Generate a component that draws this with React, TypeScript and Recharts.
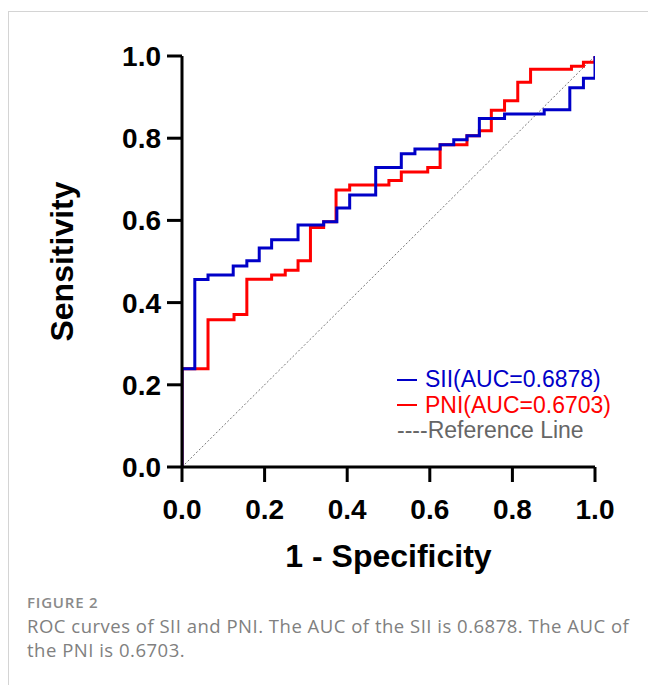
import { LineChart, Line, XAxis, YAxis, ReferenceLine, Legend } from "recharts";

// ROC step corners: x = 1 - specificity where the step happens, y = sensitivity after it
const siiFpr = [0, 0, 0.031, 0.063, 0.124, 0.157, 0.187, 0.217, 0.281, 0.343, 0.375, 0.406, 0.469, 0.531, 0.564, 0.625, 0.658, 0.69, 0.72, 0.781, 0.877, 0.939, 0.972, 1.0];
const siiTpr = [0, 0.239, 0.456, 0.467, 0.489, 0.502, 0.533, 0.553, 0.589, 0.597, 0.63, 0.662, 0.729, 0.762, 0.774, 0.784, 0.796, 0.806, 0.848, 0.859, 0.869, 0.923, 0.946, 1.0];

const pniFpr = [0, 0, 0.063, 0.126, 0.157, 0.217, 0.25, 0.281, 0.311, 0.343, 0.373, 0.406, 0.501, 0.531, 0.595, 0.625, 0.69, 0.72, 0.749, 0.781, 0.813, 0.844, 0.943, 0.972, 1.0];
const pniTpr = [0, 0.239, 0.358, 0.371, 0.457, 0.467, 0.479, 0.502, 0.583, 0.597, 0.674, 0.686, 0.697, 0.718, 0.729, 0.784, 0.806, 0.818, 0.868, 0.891, 0.936, 0.968, 0.975, 0.985, 1.0];

const axisTicks = [0, 0.2, 0.4, 0.6, 0.8, 1.0];

const legendItems = [
  { label: "SII(AUC=0.6878)", color: "#0000C8", marker: "line" },
  { label: "PNI(AUC=0.6703)", color: "#FF0000", marker: "line" },
  { label: "----Reference Line", color: "#666666", marker: "none" },
];

const siiData = siiFpr.map((x, i) => ({ x, y: siiTpr[i] }));
const pniData = pniFpr.map((x, i) => ({ x, y: pniTpr[i] }));

const FONT = "'Liberation Sans', Arial, sans-serif";
const tickStyle = { fontFamily: FONT, fontSize: 28, fontWeight: 700, fill: "#000" };

function RocLegend() {
  return (
    <div style={{ fontFamily: FONT, fontSize: 23, lineHeight: "25.5px" }}>
      {legendItems.map((item) => (
        <div key={item.label} style={{ display: "flex", alignItems: "center", color: item.color, whiteSpace: "nowrap" }}>
          {item.marker === "line" && (
            <span style={{ display: "inline-block", width: 20, height: 2, background: item.color, marginRight: 8 }} />
          )}
          <span>{item.label}</span>
        </div>
      ))}
    </div>
  );
}

export default function App() {
  return (
    <div
      style={{
        position: "fixed",
        top: 11,
        left: 8,
        width: 640,
        height: 674,
        borderTop: "1px solid #d4d4d4",
        borderLeft: "1px solid #d4d4d4",
        background: "#fff",
      }}
    >
      <LineChart width={620} height={580} margin={{ top: 44, right: 34, bottom: 25, left: 0 }}>
        <XAxis
          type="number"
          dataKey="x"
          domain={[0, 1]}
          ticks={axisTicks}
          tickFormatter={(v: number) => v.toFixed(1)}
          height={100}
          tick={tickStyle}
          tickSize={15}
          tickMargin={17}
          axisLine={{ stroke: "#000", strokeWidth: 3 }}
          tickLine={{ stroke: "#000", strokeWidth: 3 }}
          allowDataOverflow
          label={({ viewBox }: any) => (
            <text
              x={viewBox.x + viewBox.width / 2}
              y={viewBox.y + 100}
              textAnchor="middle"
              style={{ fontFamily: FONT, fontSize: 32, fontWeight: 700, fill: "#000" }}
            >
              1 - Specificity
            </text>
          )}
        />
        <YAxis
          type="number"
          dataKey="y"
          domain={[0, 1]}
          ticks={axisTicks}
          tickFormatter={(v: number) => v.toFixed(1)}
          width={173}
          tick={tickStyle}
          tickSize={15}
          tickMargin={6}
          axisLine={{ stroke: "#000", strokeWidth: 3 }}
          tickLine={{ stroke: "#000", strokeWidth: 3 }}
          allowDataOverflow
          label={({ viewBox }: any) => {
            const cx = viewBox.x + 64;
            const cy = viewBox.y + viewBox.height / 2;
            return (
              <text
                x={cx}
                y={cy}
                textAnchor="middle"
                transform={`rotate(-90, ${cx}, ${cy})`}
                style={{ fontFamily: FONT, fontSize: 32, fontWeight: 700, fill: "#000" }}
              >
                Sensitivity
              </text>
            );
          }}
        />
        <ReferenceLine
          segment={[
            { x: 0, y: 0 },
            { x: 1, y: 1 },
          ]}
          stroke="#777"
          strokeWidth={1}
          strokeDasharray="2 2"
        />
        <Line
          data={pniData}
          dataKey="y"
          type="stepAfter"
          stroke="#FF0000"
          strokeWidth={3}
          dot={false}
          isAnimationActive={false}
        />
        <Line
          data={siiData}
          dataKey="y"
          type="stepAfter"
          stroke="#0000C8"
          strokeWidth={3}
          dot={false}
          isAnimationActive={false}
        />
        <Legend
          layout="horizontal"
          verticalAlign="middle"
          align="center"
          content={() => <RocLegend />}
          wrapperStyle={{ position: "absolute", left: 388, top: 355, width: 240, height: 80 }}
        />
      </LineChart>
      <div style={{ position: "absolute", left: 18, top: 580, fontFamily: "'Open Sans', sans-serif" }}>
        <div style={{ fontSize: 15, lineHeight: "20px", color: "#8a8a8a", fontWeight: 600, letterSpacing: 0.8 }}>FIGURE 2</div>
        <div style={{ marginTop: 2, fontSize: 18.5, lineHeight: "23.5px", color: "#808080", whiteSpace: "nowrap", letterSpacing: 0.5 }}>
          ROC curves of SII and PNI. The AUC of the SII is 0.6878. The AUC of
          <br />
          the PNI is 0.6703.
        </div>
      </div>
    </div>
  );
}
